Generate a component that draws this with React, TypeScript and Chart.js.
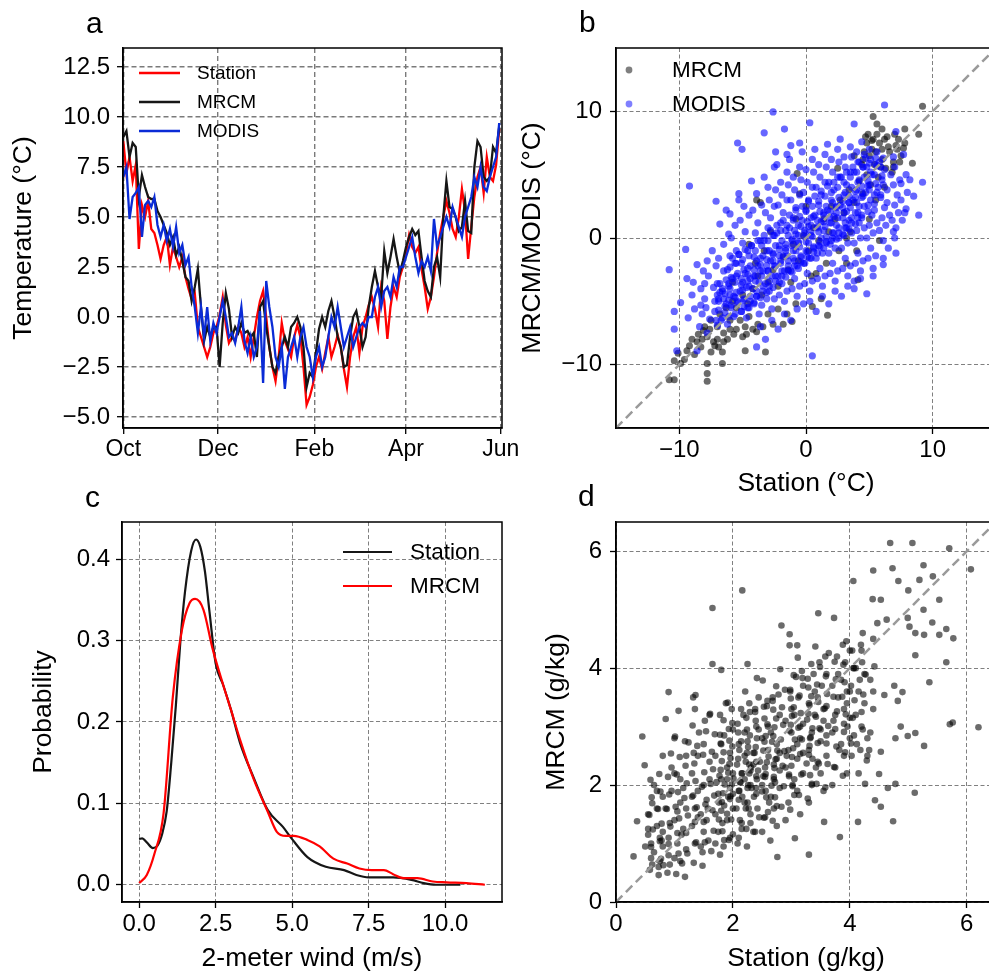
import React, { useEffect, useRef } from 'react';
import { Chart, registerables } from 'chart.js';

Chart.register(...registerables);

const FONT = "'Liberation Sans', Arial, Helvetica, sans-serif";

// ---------------- Panel a : daily temperature (every 2nd day from 1 Oct) ----------------
const monthTickDays = [0, 61, 123, 182, 243];
const monthTickLabels = ['Oct', 'Dec', 'Feb', 'Apr', 'Jun'];
const tempTicks = [-5, -2.5, 0, 2.5, 5, 7.5, 10, 12.5];
const dayStep = 2;
const stationTemp = [
  8.8, 7.2, 8.0, 6.8, 7.6, 3.4, 5.6, 5.0, 5.8, 4.4,
  4.2, 3.6, 2.9, 3.6, 4.0, 2.6, 3.5, 3.0, 2.5, 3.0,
  2.0, 1.4, 0.9, 1.2, -0.5, -1.0, -1.5, -2.0, -1.5, -0.8,
  -0.5, 0.1, 1.0, -0.4, -1.3, -1.0, -1.2, -0.5, -0.8, -1.5,
  -1.0, -2.0, -1.0, 0.0, 0.8, 1.3, 0.0, -1.5, -2.5, -3.2,
  -2.0, -0.3, -1.2, -1.6, -2.0, -1.0, -0.4, -1.0, -2.5, -4.4,
  -4.0, -3.4, -2.5, -2.0, -2.6, -1.8, -1.0, -2.0, -1.5, -0.9,
  -1.5, -2.6, -3.5, -2.0, -1.0, -0.5, -1.8, -0.5, 0.0, 0.6,
  1.0, 0.4, -0.5, 1.5, 0.8, -1.1, 0.5, 1.5, 1.0, 2.0,
  2.5, 3.2, 4.1, 3.5, 3.2, 3.5, 2.4, 1.5, 0.4, 1.0,
  2.0, 3.2, 4.2, 5.0, 5.8, 5.2, 4.4, 4.0, 5.0, 6.4,
  5.3, 2.9, 4.5, 6.0, 7.0, 7.5, 6.2, 8.0, 7.0, 6.8,
  7.6, 9.4,
];
const mrcmTemp = [
  9.0, 9.3, 8.0, 8.7, 8.5, 6.0, 7.1, 6.5, 6.0, 5.9,
  5.9, 5.3, 5.0, 4.6, 4.2, 3.6, 4.0, 3.1, 3.5, 2.8,
  2.0, 1.8, 0.8, 1.5, 2.4, 0.5, -1.2, -0.5, -1.0, -0.5,
  -0.5, -2.5, -0.3, 1.2, 0.4, -1.0, -0.5, -0.8, -0.3, -0.8,
  -0.7, -1.0, -0.8, -2.0, 0.5, 0.8, -0.5, -1.5, -2.5, -2.8,
  -2.0, -1.5, -1.0, -1.5, -0.5, -0.3, 0.0, -0.5, -1.5, -3.5,
  -2.8, -3.0, -1.8, -0.6, 0.0, -0.5, 0.3, 0.8, 0.0, -1.0,
  -1.5, -2.5, -2.4, -1.0, 0.0, 0.3, -0.5, -1.5, -1.0, 0.5,
  1.5, 2.3, 1.5, 1.0, 3.3, 2.2, 3.0, 3.9, 3.0, 2.2,
  2.8, 3.5, 4.0, 4.4, 4.1, 4.3, 3.0, 1.8, 1.3, 1.0,
  2.5, 3.0, 2.0, 5.0, 6.8, 5.5, 5.4, 5.0, 4.3, 4.5,
  5.8, 4.3, 4.2, 7.5, 8.8, 8.5, 7.0, 6.8, 7.0, 8.5,
  8.2, 9.5,
];
const modisTemp = [
  7.0, 7.5, 4.9, 6.0, 6.2, 6.5, 4.0, 5.6, 5.8, 5.5,
  6.0, 4.6, 4.0, 4.6, 3.8, 4.4, 3.5, 4.5, 3.2, 3.6,
  2.6, 3.0, 1.5, 0.5, -0.8, 0.5, -1.0, 0.5, -1.2, -0.3,
  -0.8, 0.0, 0.8, 0.0, -1.0, -0.8, -1.3, -0.5, 0.5, -1.2,
  -1.8, -1.0, -2.0, -1.5, 0.3, -3.3, 1.8, 0.5, -0.5, -2.0,
  -2.5, -1.5, -3.6, -2.0, -1.5, -1.0, -2.0, -1.0, -0.5, -1.5,
  -2.0, -3.0, -2.0, -1.5, -2.5, -2.0, -1.0, 0.0, -0.5, 0.5,
  -0.5, -1.5, -1.0, -0.5, -1.5, -1.0, -0.5, -0.3, -0.5, 0.0,
  0.0, 1.0, 1.5, 0.5, 1.3, 1.5, 1.0, 2.0, 1.5, 2.5,
  2.5, 3.0, 3.5, 4.0, 3.0, 2.2, 2.8, 2.5, 3.0, 2.3,
  4.9, 3.5, 4.0, 4.5, 5.0, 4.5, 5.5, 5.0, 4.5, 4.0,
  5.0, 5.5, 6.0, 7.0, 6.5, 7.5, 6.5, 6.3, 7.0, 7.5,
  8.0, 9.7,
];

// ---------------- Panel b : MRCM / MODIS vs station temperature ----------------
const tempScatterTicks = [-10, 0, 10];
const mrcmVsStation = [
  [9.2, 10.4], [8.9, 8.2], [8.4, 5.9], [7.8, 8.6], [7.1, 7.3], [5.3, 9.6], [5.6, 9.0], [7.7, 7.1],
  [6.9, 5.6], [5.9, 5.6], [5.2, 7.7], [4.7, 8.0], [4.1, -3.3], [5.8, -0.2], [-7.8, -11.3], [-7.8, -10.7],
  [-7.8, -9.9], [-6.6, -9.9], [-10.4, -11.2], [-10.8, -11.2], [-10.4, -9.7], [-10.1, -9.1], [-9.4, -8.9],
  [-8.1, -7.3], [-7.2, -8.5], [-6.6, -9.0], [-4.8, -8.9], [-3.2, -9.0], [-5.7, -7.6], [-4.7, -7.6],
  [-3.9, -7.4], [-1.8, -6.8], [-1.1, -6.6], [1.7, -6.1], [-3.9, 3.0], [-0.7, 5.1], [3.2, -2.0],
  [-9.0, -8.0], [-8.8, -9.2], [-8.5, -7.6], [-8.3, -8.6], [-8.0, -7.0], [-7.8, -7.8], [-7.5, -6.5],
  [-7.3, -8.2], [-7.0, -7.0], [-6.8, -6.0], [-6.5, -7.5], [-6.3, -5.5], [-6.0, -6.5], [-6.2, -8.0],
  [-5.8, -5.0], [-9.6, -9.6], [-9.9, -9.9], [-7.6, -7.2], [-8.6, -8.2], [-6.9, -8.6], [-5.5, -7.2],
  [-5.2, -6.5], [-4.8, -7.0], [-4.5, -6.2], [-4.2, -7.2], [-3.8, -6.8], [-3.4, -7.0], [-3.0, -6.0],
  [-2.6, -6.8], [-2.2, -5.6], [-1.5, -6.0], [-0.8, -5.2], [0.5, -5.4], [1.2, -4.8],
  [-5.5, -5.5], [-5.0, -4.5], [-4.6, -5.2], [-4.2, -4.0], [-3.8, -3.0], [-3.5, -4.5], [-3.0, -3.5],
  [-2.6, -2.5], [-2.2, -3.8], [-5.8, -3.5], [-4.0, -2.0], [-3.3, -1.0], [-2.8, 0.5], [-4.5, -0.5],
  [-3.6, 2.8], [-1.8, -1.5], [-1.4, -2.5], [-1.0, -0.5], [-0.6, -1.8], [-0.2, 0.2], [0.2, -1.0],
  [0.6, 0.8], [1.0, -0.2], [1.4, 1.5], [1.8, 0.5], [-0.8, 1.5], [0.0, 2.5], [0.8, -2.8], [1.6, -2.0],
  [-1.2, -3.5], [0.4, -3.0], [2.0, 2.5], [-0.5, 3.5], [2.3, 1.5], [2.7, 3.0], [3.0, 2.0], [3.4, 3.8],
  [3.8, 2.8], [4.2, 4.5], [4.5, 3.5], [4.8, 5.0], [5.1, 4.2], [5.4, 5.8], [5.7, 4.8], [6.0, 6.2],
  [6.3, 5.5], [6.6, 6.8], [6.9, 6.0], [7.2, 7.0], [7.5, 6.5], [3.5, 0.5], [4.0, -1.0], [5.0, 1.5],
  [5.5, 3.0], [6.2, 4.0], [4.6, 6.8], [5.8, 7.5], [6.4, 8.0], [7.0, 8.2], [6.8, 5.2], [7.4, 6.0],
  [5.2, 7.0], [4.4, 5.8], [3.8, 6.5], [2.5, 5.5], [3.2, 0.0], [2.6, -1.0],
  [4.5, 6.2], [5.0, 6.5], [5.3, 7.8], [5.6, 8.2], [6.0, 7.0], [6.5, 7.2], [4.8, 7.5], [5.5, 6.8],
  [6.2, 7.8], [7.3, 7.8], [7.8, 7.5], [6.0, 8.6], [4.9, 8.2], [-7.0, -8.0], [-6.5, -8.2], [-7.5, -9.0],
  [-8.2, -8.0], [-9.2, -8.5], [-6.0, -7.2], [-5.0, -7.8],
];
const modisVsStation = [
  [-2.6, 9.95], [6.2, 10.5], [0.3, 9.1], [-3.3, 8.3], [-1.7, 8.6], [-5.4, 7.5], [-5.05, 7.0], [-2.4, 6.8],
  [-1.5, 6.6], [-0.5, 7.5], [-1.2, 7.3], [3.8, 9.0], [7.1, 8.4], [9.2, 4.4], [8.9, 1.8], [8.5, 3.3],
  [7.9, 2.3], [7.5, 4.3], [6.9, 0.5], [7.0, 0.0], [7.1, -1.2], [6.1, -2.1], [4.8, -4.4], [3.8, -3.4],
  [0.5, -9.3], [-10.8, -2.5], [-9.2, 4.1], [-9.5, -0.9], [-7.1, 2.9], [-10.4, -5.8], [-10.4, -7.2],
  [-9.9, -5.1], [-8.3, -5.3], [-8.0, -3.6], [-8.9, -3.5], [-8.6, -2.1], [-7.8, -1.8], [-6.0, 1.9],
  [-5.3, 3.5], [-6.8, 1.1], [-6.1, 0.3], [-3.9, -8.6], [-8.6, -8.9], [-10.2, -8.9],
  [-9.3, -6.3], [-9.0, -4.5], [-8.8, -5.6], [-9.4, -3.2],
  [-8.2, -6.0], [-8.0, -4.8], [-7.9, -5.5], [-8.3, -4.0], [-7.7, -3.0], [-8.1, -2.6], [-7.6, -6.4], [-7.8, -7.5], [-8.4, -7.0],
  [-7.2, -5.8], [-7.0, -4.5], [-6.8, -3.6], [-7.3, -3.9], [-6.9, -5.0], [-7.1, -2.2], [-6.7, -6.5], [-6.6, -4.2],
  [-7.4, -1.0], [-6.9, -1.6], [-6.5, -0.5], [-7.0, -6.9],
  [-6.3, -5.2], [-6.0, -4.0], [-5.8, -3.2], [-6.2, -2.5], [-5.9, -5.5], [-6.1, -3.6], [-5.7, -4.6], [-5.6, -2.0],
  [-6.4, -4.4], [-5.5, -1.0], [-5.9, 0.0], [-6.2, -6.8], [-5.7, -6.2], [-5.5, -3.0], [-6.0, -1.4], [-5.4, -5.0],
  [-5.6, 1.0], [-6.3, 2.2],
  [-5.2, -4.2], [-5.0, -3.5], [-4.8, -2.8], [-5.1, -2.0], [-4.9, -4.8], [-4.7, -3.9], [-5.3, -1.3], [-4.6, -1.0],
  [-5.0, -0.4], [-4.8, 0.5], [-5.2, 1.4], [-4.5, -5.5], [-4.7, -6.3], [-5.1, -5.8], [-4.6, -2.4], [-4.4, -3.2],
  [-4.9, 2.5], [-4.5, 1.8], [-5.3, 3.0],
  [-4.2, -4.0], [-4.0, -3.0], [-3.8, -2.2], [-4.1, -1.5], [-3.9, -4.6], [-3.7, -3.5], [-4.3, -0.6], [-3.6, -0.2],
  [-4.0, 0.4], [-3.8, 1.2], [-4.2, 2.2], [-3.5, -5.3], [-3.7, -6.0], [-4.1, -5.2], [-3.6, -1.6], [-3.4, -2.6],
  [-3.9, 3.5], [-3.5, 2.6], [-4.3, 4.5], [-3.3, 4.8], [-3.6, -7.0], [-3.2, -8.0],
  [-3.2, -3.6], [-3.0, -2.6], [-2.8, -1.8], [-3.1, -1.0], [-2.9, -4.2], [-2.7, -3.0], [-3.3, -0.2], [-2.6, 0.2],
  [-3.0, 0.8], [-2.8, 1.6], [-3.2, 2.0], [-2.5, -4.8], [-2.7, -5.6], [-3.1, -4.8], [-2.6, -1.2], [-2.4, -2.2],
  [-2.9, 3.0], [-2.5, 2.5], [-3.0, 4.0], [-2.4, 3.8], [-2.7, -6.5], [-2.2, -7.2], [-2.5, 5.6],
  [-2.2, -3.0], [-2.0, -2.0], [-1.8, -1.4], [-2.1, -0.6], [-1.9, -3.6], [-1.7, -2.6], [-2.3, 0.4], [-1.6, 0.6],
  [-2.0, 1.2], [-1.8, 2.0], [-2.2, 2.6], [-1.5, -4.2], [-1.7, -5.0], [-2.1, -4.5], [-1.6, -0.8], [-1.4, -1.8],
  [-1.9, 3.4], [-1.5, 3.0], [-2.0, 4.4], [-1.4, 4.2], [-1.7, -6.0], [-1.2, -6.5], [-1.5, 5.2], [-2.3, 5.8],
  [-1.2, -2.6], [-1.0, -1.6], [-0.8, -1.0], [-1.1, -0.2], [-0.9, -3.2], [-0.7, -2.2], [-1.3, 0.8], [-0.6, 1.0],
  [-1.0, 1.6], [-0.8, 2.4], [-1.2, 3.0], [-0.5, -3.8], [-0.7, -4.6], [-1.1, -4.0], [-0.6, -0.4], [-0.4, -1.4],
  [-0.9, 3.8], [-0.5, 3.4], [-1.0, 4.8], [-0.4, 4.6], [-0.7, -5.6], [-0.2, -5.2], [-0.5, 5.6], [-1.3, 6.2], [-0.8, 0.3],
  [-0.2, -2.0], [0.0, -1.0], [0.2, -0.4], [-0.1, 0.4], [0.1, -2.8], [0.3, -1.6], [-0.3, 1.4], [0.4, 1.6],
  [0.0, 2.2], [0.2, 3.0], [-0.2, 3.6], [0.5, -3.4], [0.3, -4.2], [-0.1, -3.6], [0.4, 0.2], [0.6, -0.8],
  [0.1, 4.4], [0.5, 4.0], [0.0, 5.4], [0.6, 5.2], [0.3, -5.0], [0.8, -5.8], [0.5, 6.2], [-0.3, 6.8], [0.2, 0.9],
  [0.8, -1.6], [1.0, -0.6], [1.2, 0.0], [0.9, 0.8], [1.1, -2.4], [1.3, -1.2], [0.7, 1.8], [1.4, 2.0],
  [1.0, 2.6], [1.2, 3.4], [0.8, 4.0], [1.5, -3.0], [1.3, -3.8], [0.9, -3.2], [1.4, 0.6], [1.6, -0.4],
  [1.1, 4.8], [1.5, 4.4], [1.0, 5.8], [1.6, 5.6], [1.3, -4.6], [1.8, -5.2], [1.5, 6.6], [0.7, 7.0], [1.2, 1.3],
  [1.8, -1.2], [2.0, -0.2], [2.2, 0.4], [1.9, 1.2], [2.1, -2.0], [2.3, -0.8], [1.7, 2.2], [2.4, 2.4],
  [2.0, 3.0], [2.2, 3.8], [1.8, 4.4], [2.5, -2.6], [2.3, -3.4], [1.9, -2.8], [2.4, 1.0], [2.6, 0.0],
  [2.1, 5.2], [2.5, 4.8], [2.0, 6.2], [2.6, 6.0], [2.3, -4.2], [2.8, -4.6], [2.5, 7.0], [1.7, 7.4], [2.2, 1.7],
  [2.8, -0.8], [3.0, 0.2], [3.2, 0.8], [2.9, 1.6], [3.1, -1.6], [3.3, -0.4], [2.7, 2.6], [3.4, 2.8],
  [3.0, 3.4], [3.2, 4.2], [2.8, 4.8], [3.5, -2.2], [3.3, -3.0], [2.9, -2.4], [3.4, 1.4], [3.6, 0.4],
  [3.1, 5.6], [3.5, 5.2], [3.0, 6.4], [3.6, 6.4], [3.3, -3.8], [3.8, -4.0], [3.5, 7.2], [2.7, 7.8], [3.2, 2.1],
  [3.8, -0.4], [4.0, 0.6], [4.2, 1.2], [3.9, 2.0], [4.1, -1.2], [4.3, 0.0], [3.7, 3.0], [4.4, 3.2],
  [4.0, 3.8], [4.2, 4.6], [3.8, 5.2], [4.5, -1.8], [4.3, -2.6], [3.9, -2.0], [4.4, 1.8], [4.6, 0.8],
  [4.1, 6.0], [4.5, 5.6], [4.0, 6.8], [4.6, 6.6], [4.3, -3.2], [4.4, 7.6], [4.2, 2.5],
  [4.8, 0.0], [5.0, 1.0], [5.2, 1.8], [4.9, 2.6], [5.1, -0.8], [5.3, 0.4], [4.7, 3.6], [5.4, 3.4],
  [5.0, 4.2], [5.2, 5.0], [4.8, 5.6], [5.5, -1.4], [5.3, -2.4], [4.9, -1.6], [5.4, 2.2], [5.6, 1.2],
  [5.1, 6.2], [5.5, 5.8], [5.0, 7.0], [5.6, 6.8], [5.3, -3.0],
  [5.8, 0.6], [6.0, 1.6], [6.2, 2.4], [5.9, 3.2], [6.1, -0.2], [6.3, 1.0], [5.7, 4.0], [6.4, 3.8],
  [6.0, 4.6], [6.2, 5.4], [5.8, 6.0], [6.5, -0.8], [6.4, 2.8], [6.6, 1.8], [6.1, -1.6],
  [6.8, 1.4], [7.0, 2.6], [7.2, 3.4], [6.9, 4.2], [7.1, 0.8], [7.3, 2.0], [6.7, 5.0], [7.4, 4.6],
  [7.0, 5.6], [7.5, 3.0], [7.6, 1.4], [6.9, 6.4],
  [7.8, 2.0], [8.0, 3.6], [7.9, 5.0], [8.2, 4.6], [7.7, 6.6],
];
// dense MODIS band along the diagonal
const modisCoreBand = [
  [-7.1, -6.5], [-6.9, -5.7], [-7.2, -5.0], [-6.8, -4.3], [-7.0, -3.6], [-6.9, -4.8],
  [-6.6, -6.3], [-6.4, -5.4], [-6.5, -4.8], [-6.6, -4.0], [-6.3, -3.3], [-6.5, -2.6], [-6.4, -5.9],
  [-6.1, -6.2], [-5.9, -5.3], [-6.0, -4.5], [-6.1, -3.8], [-5.9, -3.1], [-6.0, -2.3], [-5.8, -1.6], [-6.1, -4.9],
  [-5.6, -6.0], [-5.4, -5.1], [-5.5, -4.3], [-5.6, -3.5], [-5.4, -2.8], [-5.5, -2.0], [-5.3, -1.3], [-5.6, -4.7],
  [-5.1, -5.8], [-4.9, -4.9], [-5.0, -4.1], [-5.1, -3.2], [-4.9, -2.5], [-5.0, -1.7], [-4.8, -0.9], [-5.1, -3.7], [-4.9, -5.4],
  [-4.6, -5.5], [-4.4, -4.6], [-4.5, -3.8], [-4.6, -2.9], [-4.4, -2.2], [-4.5, -1.4], [-4.3, -0.6], [-4.6, -3.4], [-4.4, -5.0],
  [-4.1, -5.1], [-3.9, -4.2], [-4.0, -3.4], [-4.1, -2.5], [-3.9, -1.8], [-4.0, -1.0], [-3.8, -0.2], [-4.1, -3.0], [-3.9, -4.6],
  [-3.6, -4.7], [-3.4, -3.8], [-3.5, -3.0], [-3.6, -2.1], [-3.4, -1.4], [-3.5, -0.6], [-3.3, 0.2], [-3.6, -2.6], [-3.4, -4.2],
  [-3.1, -4.3], [-2.9, -3.4], [-3.0, -2.6], [-3.1, -1.7], [-2.9, -1.0], [-3.0, -0.2], [-2.8, 0.6], [-3.1, -2.2], [-2.9, -3.8],
  [-2.6, -3.9], [-2.4, -3.0], [-2.5, -2.2], [-2.6, -1.3], [-2.4, -0.6], [-2.5, 0.2], [-2.3, 1.0], [-2.6, -1.8], [-2.4, -3.4],
  [-2.1, -3.5], [-1.9, -2.6], [-2.0, -1.8], [-2.1, -0.9], [-1.9, -0.2], [-2.0, 0.6], [-1.8, 1.4], [-2.1, -1.4], [-1.9, -3.0],
  [-1.6, -3.1], [-1.4, -2.2], [-1.5, -1.4], [-1.6, -0.5], [-1.4, 0.2], [-1.5, 1.0], [-1.3, 1.8], [-1.6, -1.0], [-1.4, -2.6],
  [-1.1, -2.7], [-0.9, -1.8], [-1.0, -1.0], [-1.1, -0.1], [-0.9, 0.6], [-1.0, 1.4], [-0.8, 2.2], [-1.1, -0.6], [-0.9, -2.2],
  [-0.6, -2.4], [-0.4, -1.5], [-0.5, -0.7], [-0.6, 0.2], [-0.4, 0.9], [-0.5, 1.7], [-0.3, 2.5], [-0.6, -0.3], [-0.4, -1.9],
  [-0.1, -2.0], [0.1, -1.1], [0.0, -0.3], [-0.1, 0.6], [0.1, 1.3], [0.0, 2.1], [0.2, 2.9], [-0.1, 0.1], [0.1, -1.5],
  [0.4, -1.6], [0.6, -0.7], [0.5, 0.1], [0.4, 1.0], [0.6, 1.7], [0.5, 2.5], [0.7, 3.3], [0.4, 0.5], [0.6, -1.1],
  [0.9, -1.2], [1.1, -0.3], [1.0, 0.5], [0.9, 1.4], [1.1, 2.1], [1.0, 2.9], [1.2, 3.7], [0.9, 0.9], [1.1, -0.7],
  [1.4, -0.8], [1.6, 0.1], [1.5, 0.9], [1.4, 1.8], [1.6, 2.5], [1.5, 3.3], [1.7, 4.1], [1.4, 1.3], [1.6, -0.3],
  [1.9, -0.5], [2.1, 0.4], [2.0, 1.2], [1.9, 2.1], [2.1, 2.8], [2.0, 3.6], [2.2, 4.4], [1.9, 1.6], [2.1, 0.0],
  [2.4, -0.1], [2.6, 0.8], [2.5, 1.6], [2.4, 2.5], [2.6, 3.2], [2.5, 4.0], [2.7, 4.8], [2.4, 2.0], [2.6, 0.4],
  [2.9, 0.3], [3.1, 1.2], [3.0, 2.0], [2.9, 2.9], [3.1, 3.6], [3.0, 4.4], [3.2, 5.2], [2.9, 2.4], [3.1, 0.8],
  [3.4, 0.7], [3.6, 1.6], [3.5, 2.4], [3.4, 3.3], [3.6, 4.0], [3.5, 4.8], [3.7, 5.6], [3.4, 2.8], [3.6, 1.2],
  [3.9, 1.1], [4.1, 2.0], [4.0, 2.8], [3.9, 3.7], [4.1, 4.4], [4.0, 5.2], [4.2, 6.0], [3.9, 3.2], [4.1, 1.6],
  [4.4, 1.6], [4.6, 2.5], [4.5, 3.3], [4.4, 4.1], [4.6, 4.8], [4.5, 5.6], [4.7, 6.3], [4.4, 3.6],
  [4.9, 2.1], [5.1, 3.0], [5.0, 3.8], [4.9, 4.5], [5.1, 5.2], [5.0, 5.9], [4.9, 4.1],
  [5.4, 2.7], [5.6, 3.6], [5.5, 4.3], [5.4, 5.0], [5.6, 5.7], [5.5, 6.3],
  [5.9, 3.4], [6.1, 4.2], [6.0, 4.9], [5.9, 5.6], [6.1, 6.3],
];

// ---------------- Panel c : 2-meter wind probability density ----------------
const windTicks = [0, 2.5, 5, 7.5, 10];
const probTicks = [0, 0.1, 0.2, 0.3, 0.4];
const stationWindX = [0, 0.1, 0.25, 0.45, 0.6, 0.75, 0.9, 1.05, 1.2, 1.35, 1.5, 1.7, 1.86, 2.0, 2.15, 2.3, 2.5, 2.75, 3.0, 3.3, 3.75, 4.2, 4.7, 5.0, 5.5, 6.1, 6.7, 7.1, 7.5, 8.3, 8.9, 9.3, 9.7, 10.5];
const stationWindPdf = [0.056, 0.057, 0.052, 0.045, 0.048, 0.062, 0.09, 0.15, 0.22, 0.30, 0.36, 0.41, 0.424, 0.415, 0.385, 0.335, 0.272, 0.245, 0.215, 0.174, 0.131, 0.092, 0.071, 0.056, 0.034, 0.022, 0.018, 0.012, 0.009, 0.009, 0.006, 0.002, 0.0, 0.0];
const mrcmWindX = [0, 0.25, 0.5, 0.8, 1.1, 1.4, 1.65, 1.83, 2.1, 2.4, 2.75, 3.0, 3.3, 3.75, 4.2, 4.5, 4.8, 5.05, 5.5, 5.9, 6.35, 6.8, 7.2, 7.6, 8.0, 8.3, 8.65, 9.1, 9.6, 10.05, 10.7, 11.3];
const mrcmWindPdf = [0.002, 0.012, 0.038, 0.088, 0.23, 0.313, 0.346, 0.351, 0.338, 0.29, 0.245, 0.215, 0.178, 0.129, 0.09, 0.065, 0.06, 0.06, 0.055, 0.047, 0.032, 0.026, 0.02, 0.018, 0.018, 0.013, 0.008, 0.008, 0.004, 0.003, 0.002, 0.0];

// ---------------- Panel d : specific humidity, MRCM vs station ----------------
const humidityTicks = [0, 2, 4, 6];
const humidityPairs = [
  [1.65, 5.03], [2.16, 5.33], [1.65, 4.07], [1.8, 3.97], [2.25, 4.07], [2.41, 3.83], [0.9, 3.59], [1.36, 3.54],
  [1.32, 3.5], [1.07, 3.27], [0.85, 3.13], [0.45, 2.83], [0.49, 2.34], [0.62, 1.69], [0.36, 1.38], [0.3, 0.78],
  [0.73, 0.46], [0.81, 0.63], [1.13, 0.66], [2.76, 0.77], [3.3, 0.81], [3.06, 1.09], [3.83, 1.11], [3.56, 1.37],
  [4.14, 1.37], [4.43, 1.74], [4.53, 1.63], [4.74, 1.38], [5.11, 1.87], [4.78, 2.02], [4.65, 1.95], [4.26, 2.02],
  [4.5, 2.19], [2.83, 4.73], [2.97, 4.58], [2.97, 4.39], [3.1, 4.39], [3.46, 4.94], [3.73, 4.86], [4.06, 5.49],
  [4.4, 5.67], [4.69, 6.14], [5.07, 6.14], [4.73, 5.71], [4.83, 5.49], [5.26, 5.76], [5.42, 5.57], [5.7, 6.05],
  [6.07, 5.69], [5.19, 5.51], [5.0, 5.33], [5.53, 5.17], [5.26, 5.0], [4.39, 5.18], [4.53, 5.17], [4.47, 4.77],
  [4.63, 4.83], [4.99, 4.86], [5.02, 4.71], [5.12, 4.6], [5.27, 4.57], [5.41, 4.78], [5.53, 4.57], [5.65, 4.67],
  [5.77, 4.51], [5.65, 4.1], [5.36, 3.76], [5.71, 3.04], [5.76, 3.07], [6.2, 2.99], [5.27, 2.67], [5.12, 4.22],
  [5.12, 2.89], [4.99, 2.84], [4.87, 3.0], [4.78, 2.8], [4.53, 2.57], [4.33, 2.6], [4.29, 2.42], [4.02, 2.71],
  [3.96, 3.0], [4.42, 4.03], [4.76, 3.7], [4.9, 3.59], [4.82, 3.44], [4.59, 3.54], [4.27, 3.89], [4.07, 4.0],
  [0.55, 1.15], [0.6, 1.0], [0.7, 1.3], [0.65, 0.85], [0.75, 1.1], [0.8, 0.95], [0.55, 1.5], [0.7, 1.6],
  [0.8, 1.2], [0.6, 0.75], [0.75, 0.7], [0.5, 0.95], [0.8, 1.8], [0.65, 2.0], [0.8, 2.5], [0.7, 1.9],
  [0.55, 1.25], [0.78, 1.05],
  [0.9, 1.1], [1.0, 1.4], [1.1, 1.7], [0.95, 1.9], [1.05, 1.0], [1.15, 1.25], [1.2, 1.6], [0.9, 0.8],
  [1.0, 0.75], [1.1, 2.1], [0.95, 2.3], [1.2, 2.5], [1.0, 2.8], [1.15, 1.95], [1.05, 1.55], [0.92, 1.35],
  [1.2, 0.9], [1.1, 0.7], [1.18, 2.75], [1.0, 2.2], [0.85, 1.6], [1.12, 1.15],
  [1.3, 1.3], [1.35, 1.6], [1.4, 1.9], [1.45, 1.5], [1.5, 1.2], [1.55, 1.75], [1.6, 2.1], [1.3, 2.2],
  [1.4, 2.5], [1.5, 2.7], [1.35, 1.0], [1.45, 0.95], [1.55, 1.4], [1.6, 2.4], [1.3, 1.8], [1.4, 1.45],
  [1.5, 2.0], [1.58, 1.05], [1.42, 2.9], [1.52, 3.1], [1.35, 3.3], [1.6, 3.2], [1.48, 0.85], [1.33, 2.55], [1.57, 1.6],
  [1.7, 1.5], [1.75, 1.85], [1.8, 2.1], [1.85, 1.65], [1.9, 2.3], [1.95, 1.95], [2.0, 2.2], [1.7, 2.5],
  [1.8, 2.7], [1.9, 1.4], [1.75, 1.2], [2.0, 1.6], [1.85, 2.85], [1.95, 2.55], [1.72, 2.05], [1.82, 1.35],
  [1.92, 1.8], [2.0, 2.95], [1.78, 3.2], [1.88, 3.4], [1.7, 1.0], [1.95, 1.1], [2.0, 1.85], [1.9, 2.1],
  [1.76, 1.7], [1.98, 3.3], [1.84, 0.95],
  [2.1, 1.9], [2.15, 2.2], [2.2, 2.5], [2.25, 1.7], [2.3, 2.0], [2.35, 2.35], [2.4, 2.15], [2.1, 2.7],
  [2.2, 2.9], [2.3, 1.5], [2.15, 1.35], [2.4, 1.85], [2.25, 2.75], [2.35, 2.55], [2.12, 2.05], [2.22, 1.6],
  [2.32, 1.95], [2.4, 3.0], [2.18, 3.2], [2.28, 3.4], [2.1, 1.1], [2.35, 1.2], [2.4, 2.4], [2.3, 2.25],
  [2.16, 1.8], [2.38, 3.3], [2.24, 0.95], [2.2, 2.1], [2.28, 2.35],
  [2.5, 2.0], [2.55, 2.3], [2.6, 2.6], [2.65, 1.8], [2.7, 2.1], [2.75, 2.45], [2.8, 2.25], [2.5, 2.8],
  [2.6, 3.0], [2.7, 1.6], [2.55, 1.45], [2.8, 1.95], [2.65, 2.9], [2.75, 2.7], [2.52, 2.15], [2.62, 1.7],
  [2.72, 2.05], [2.8, 3.2], [2.58, 3.35], [2.68, 3.5], [2.5, 1.2], [2.75, 1.3], [2.8, 2.55], [2.7, 2.35],
  [2.56, 1.9], [2.78, 3.55], [2.64, 1.05],
  [2.9, 2.3], [2.95, 2.6], [3.0, 2.9], [3.05, 2.1], [3.1, 2.45], [3.15, 2.8], [3.2, 2.55], [2.9, 3.1],
  [3.0, 3.3], [3.1, 1.9], [2.95, 1.7], [3.2, 2.2], [3.05, 3.2], [3.15, 3.0], [2.92, 2.5], [3.02, 2.0],
  [3.12, 3.5], [3.2, 3.7], [2.98, 3.6], [3.08, 3.85], [2.9, 1.4], [3.15, 1.5], [3.2, 3.05], [3.1, 2.7],
  [2.96, 2.15], [3.18, 3.95],
  [3.3, 2.6], [3.35, 2.9], [3.4, 3.2], [3.45, 2.4], [3.5, 2.75], [3.55, 3.1], [3.6, 2.85], [3.3, 3.4],
  [3.4, 3.6], [3.5, 2.2], [3.35, 2.0], [3.6, 2.5], [3.45, 3.5], [3.55, 3.3], [3.32, 2.8], [3.42, 2.3],
  [3.52, 3.7], [3.6, 3.9], [3.38, 3.9], [3.48, 4.1], [3.3, 1.7], [3.55, 1.9], [3.6, 3.35], [3.5, 2.95],
  [3.36, 2.45], [3.58, 4.2],
  [3.7, 2.9], [3.75, 3.2], [3.8, 3.5], [3.85, 2.7], [3.9, 3.05], [3.95, 3.4], [4.0, 3.15], [3.7, 3.7],
  [3.8, 3.9], [3.9, 2.5], [3.75, 2.3], [4.0, 2.8], [3.85, 3.8], [3.95, 3.6], [3.72, 3.1], [3.82, 2.6],
  [3.92, 4.1], [4.0, 4.3], [3.78, 4.2], [3.88, 4.4], [3.7, 2.0], [3.95, 2.2], [4.0, 3.6], [3.9, 3.3],
  [4.1, 3.2], [4.15, 3.6], [4.2, 3.0], [4.25, 3.4], [4.3, 2.8], [4.35, 3.8], [4.4, 3.3], [4.1, 4.0],
  [4.2, 4.3], [4.3, 2.5], [4.15, 2.2], [4.4, 4.5], [4.25, 3.9], [4.35, 2.9], [4.12, 2.7], [4.22, 4.6], [4.4, 3.6],
];
// dense humidity core along the main band
const humidityCore = [
  [0.58, 0.55], [0.62, 0.64], [0.6, 0.94], [0.63, 1.24], [0.57, 1.49], [0.61, 1.79], [0.59, 2.09],
  [0.73, 0.6], [0.77, 0.74], [0.75, 1.04], [0.78, 1.34], [0.72, 1.59], [0.76, 1.89], [0.74, 2.19],
  [0.88, 0.5], [0.92, 0.64], [0.9, 0.99], [0.93, 1.29], [0.87, 1.59], [0.91, 1.84], [0.89, 2.14], [0.94, 2.54],
  [1.03, 0.48], [1.07, 0.83], [1.05, 1.18], [1.08, 1.43], [1.02, 1.63], [1.06, 1.88], [1.04, 2.18], [1.09, 2.48], [1.01, 2.83],
  [1.18, 0.43], [1.22, 0.83], [1.2, 1.18], [1.23, 1.48], [1.17, 1.78], [1.21, 2.03], [1.19, 2.33], [1.24, 2.73],
  [1.33, 0.67], [1.37, 1.02], [1.35, 1.37], [1.38, 1.62], [1.32, 1.82], [1.36, 2.07], [1.34, 2.37], [1.39, 2.67], [1.31, 3.02],
  [1.48, 0.62], [1.52, 1.02], [1.5, 1.37], [1.53, 1.67], [1.47, 1.97], [1.51, 2.22], [1.49, 2.52], [1.54, 2.92],
  [1.63, 0.87], [1.67, 1.22], [1.65, 1.57], [1.68, 1.82], [1.62, 2.02], [1.66, 2.27], [1.64, 2.57], [1.69, 2.87], [1.61, 3.22],
  [1.78, 0.81], [1.82, 1.21], [1.8, 1.56], [1.83, 1.86], [1.77, 2.16], [1.81, 2.41], [1.79, 2.71], [1.84, 3.11],
  [1.85, 1.06], [1.76, 1.41], [1.81, 1.71], [1.86, 2.01], [1.79, 2.26], [1.84, 2.56], [1.78, 2.86],
  [1.93, 1.06], [1.97, 1.41], [1.95, 1.76], [1.98, 2.01], [1.92, 2.21], [1.96, 2.46], [1.94, 2.76], [1.99, 3.06], [1.91, 3.41],
  [2.0, 1.16], [1.9, 1.51], [1.96, 1.81], [2.01, 2.11], [1.94, 2.36], [1.99, 2.66], [1.93, 2.96],
  [2.08, 1.0], [2.12, 1.4], [2.1, 1.75], [2.13, 2.05], [2.07, 2.35], [2.11, 2.6], [2.09, 2.9], [2.14, 3.3],
  [2.15, 1.25], [2.06, 1.6], [2.11, 1.9], [2.16, 2.2], [2.09, 2.45], [2.14, 2.75], [2.08, 3.05],
  [2.23, 1.25], [2.27, 1.6], [2.25, 1.95], [2.28, 2.2], [2.22, 2.4], [2.26, 2.65], [2.24, 2.95], [2.29, 3.25], [2.21, 3.6],
  [2.3, 1.35], [2.2, 1.7], [2.26, 2.0], [2.31, 2.3], [2.24, 2.55], [2.29, 2.85], [2.23, 3.15],
  [2.38, 1.2], [2.42, 1.6], [2.4, 1.95], [2.43, 2.25], [2.37, 2.55], [2.41, 2.8], [2.39, 3.1], [2.44, 3.5],
  [2.45, 1.45], [2.36, 1.8], [2.41, 2.1], [2.46, 2.4], [2.39, 2.65], [2.44, 2.95], [2.38, 3.25],
  [2.53, 1.44], [2.57, 1.79], [2.55, 2.14], [2.58, 2.39], [2.52, 2.59], [2.56, 2.84], [2.54, 3.14], [2.59, 3.44], [2.51, 3.79],
  [2.6, 1.54], [2.5, 1.89], [2.56, 2.19], [2.61, 2.49], [2.54, 2.74], [2.59, 3.04], [2.53, 3.34],
  [2.68, 1.39], [2.72, 1.79], [2.7, 2.14], [2.73, 2.44], [2.67, 2.74], [2.71, 2.99], [2.69, 3.29], [2.74, 3.69],
  [2.75, 1.64], [2.66, 1.99], [2.71, 2.29], [2.76, 2.59], [2.69, 2.84], [2.74, 3.14], [2.68, 3.44],
  [2.83, 1.63], [2.87, 1.98], [2.85, 2.33], [2.88, 2.58], [2.82, 2.78], [2.86, 3.03], [2.84, 3.33], [2.89, 3.63], [2.81, 3.98],
  [2.98, 1.58], [3.02, 1.98], [3.0, 2.33], [3.03, 2.63], [2.97, 2.93], [3.01, 3.18], [2.99, 3.48], [3.04, 3.88],
  [3.05, 1.83], [2.96, 2.18], [3.01, 2.48], [3.06, 2.78], [2.99, 3.03], [3.04, 3.33], [2.98, 3.63],
  [3.13, 1.83], [3.17, 2.18], [3.15, 2.53], [3.18, 2.78], [3.12, 2.98], [3.16, 3.23], [3.14, 3.53], [3.19, 3.83], [3.11, 4.18],
  [3.28, 1.77], [3.32, 2.17], [3.3, 2.52], [3.33, 2.82], [3.27, 3.12], [3.31, 3.37], [3.29, 3.67], [3.34, 4.07],
  [3.35, 2.02], [3.26, 2.37], [3.31, 2.67], [3.36, 2.97], [3.29, 3.22], [3.34, 3.52], [3.28, 3.82],
  [3.43, 2.02], [3.47, 2.37], [3.45, 2.72], [3.48, 2.97], [3.42, 3.17], [3.46, 3.42], [3.44, 3.72], [3.49, 4.02], [3.41, 4.37],
  [3.58, 1.96], [3.62, 2.36], [3.6, 2.71], [3.63, 3.01], [3.57, 3.31], [3.61, 3.56], [3.59, 3.86], [3.64, 4.26],
  [3.73, 2.31], [3.77, 2.66], [3.75, 2.96], [3.78, 3.26], [3.72, 3.51], [3.76, 3.81], [3.74, 4.11],
  [3.88, 2.16], [3.92, 2.56], [3.9, 2.91], [3.93, 3.21], [3.87, 3.51], [3.91, 3.76], [3.89, 4.06], [3.94, 4.46],
  [4.03, 2.5], [4.07, 2.85], [4.05, 3.15], [4.08, 3.45], [4.02, 3.7], [4.06, 4.0], [4.04, 4.3],
  [4.18, 2.6], [4.22, 2.95], [4.2, 3.25], [4.23, 3.55], [4.17, 3.8], [4.21, 4.1], [4.19, 4.4],
];

// ---------------- helpers ----------------
const minus = (s: string) => s.replace('-', '\u2212');
const toXY = (xs: number[], ys: number[]) => ys.map((y, i) => ({ x: xs[i], y }));
const pairsToXY = (p: number[][]) => p.map(([x, y]) => ({ x, y }));

type LegendItem = { label: string; color: string; kind: 'line' | 'dot'; width?: number; r?: number };
type LegendCfg = { dx: number; dy: number; gap: number; len: number; tx: number; size: number; items: LegendItem[] };

function decor(letter: { text: string; x: number; y: number }, legend?: LegendCfg) {
  return {
    id: 'decor',
    afterDraw(chart: any) {
      const { ctx, chartArea: a } = chart;
      ctx.save();
      ctx.setLineDash([]);
      ctx.strokeStyle = '#000';
      ctx.lineWidth = 1.5;
      ctx.strokeRect(a.left, a.top, a.right - a.left, a.bottom - a.top);
      if (legend) {
        ctx.font = `${legend.size}px ${FONT}`;
        ctx.textBaseline = 'middle';
        ctx.textAlign = 'left';
        legend.items.forEach((it, i) => {
          const y = a.top + legend.dy + i * legend.gap;
          if (it.kind === 'line') {
            ctx.strokeStyle = it.color;
            ctx.lineWidth = it.width || 2;
            ctx.beginPath();
            ctx.moveTo(a.left + legend.dx, y);
            ctx.lineTo(a.left + legend.dx + legend.len, y);
            ctx.stroke();
          } else {
            ctx.fillStyle = it.color;
            ctx.beginPath();
            ctx.arc(a.left + legend.dx, y, it.r || 3, 0, Math.PI * 2);
            ctx.fill();
          }
          ctx.fillStyle = '#000';
          ctx.fillText(it.label, a.left + legend.tx, y + 1);
        });
      }
      ctx.font = `30px ${FONT}`;
      ctx.fillStyle = '#000';
      ctx.textAlign = 'left';
      ctx.textBaseline = 'alphabetic';
      ctx.fillText(letter.text, letter.x, letter.y);
      ctx.restore();
    },
  };
}

function axis(o: any) {
  return {
    type: 'linear',
    position: o.pos,
    min: o.min,
    max: o.max,
    afterBuildTicks: (s: any) => {
      s.ticks = o.ticks.map((v: number) => ({ value: v }));
    },
    afterFit: (s: any) => {
      if (o.pos === 'left') s.width = o.size;
      else s.height = o.size;
      s.paddingLeft = 0;
      s.paddingRight = 0;
      s.paddingTop = 0;
      s.paddingBottom = 0;
    },
    ticks: {
      autoSkip: false,
      maxRotation: 0,
      minRotation: 0,
      padding: o.pad,
      color: '#000',
      font: { family: FONT, size: o.tickSize || 24 },
      callback: (v: number) => o.fmt(v),
    },
    grid: {
      display: true,
      color: o.gridColor,
      lineWidth: o.gridWidth,
      borderDash: o.dash,
      drawTicks: true,
      tickLength: 6,
      tickWidth: 1.3,
      tickColor: '#000',
      tickBorderDash: [],
    },
    border: { display: true, color: '#000', width: 1.5, dash: o.dash },
    title: o.title
      ? {
          display: true,
          text: o.title,
          color: '#000',
          font: { family: FONT, size: 26.5 },
          padding: { top: o.titlePad, bottom: o.titlePad },
        }
      : { display: false },
  };
}

const baseOptions = (padding: any) => ({
  responsive: false,
  maintainAspectRatio: false,
  animation: false,
  events: [],
  layout: { padding },
  plugins: { legend: { display: false }, tooltip: { enabled: false }, title: { display: false } },
});

// ---------------- chart configs ----------------
function configA() {
  const days = stationTemp.map((_, i) => i * dayStep);
  const line = (label: string, ys: number[], color: string, order: number) => ({
    label,
    data: toXY(days, ys),
    borderColor: color,
    backgroundColor: color,
    borderWidth: 2.3,
    pointRadius: 0,
    tension: 0,
    order,
  });
  const RED = '#ff0000', BLACK = '#161616', BLUE = '#0a2bd6';
  return {
    type: 'line',
    data: {
      datasets: [line('Station', stationTemp, RED, 3), line('MRCM', mrcmTemp, BLACK, 2), line('MODIS', modisTemp, BLUE, 1)],
    },
    options: {
      ...baseOptions({ left: 0, top: 48, right: 28, bottom: 0 }),
      scales: {
        x: axis({
          pos: 'bottom', min: -0.2, max: 243.8, ticks: monthTickDays,
          fmt: (v: number) => monthTickLabels[monthTickDays.indexOf(v)] ?? '',
          size: 52, pad: 2, gridColor: '#7a7a7a', gridWidth: 1.4, dash: [5, 3], tickSize: 23,
        }),
        y: axis({
          pos: 'left', min: -5.55, max: 13.45, ticks: tempTicks,
          fmt: (v: number) => minus(v.toFixed(1)),
          size: 123, pad: 7, gridColor: '#7a7a7a', gridWidth: 1.4, dash: [5, 3],
          title: 'Temperature (°C)', titlePad: 8,
        }),
      },
    },
    plugins: [
      decor({ text: 'a', x: 86, y: 33 }, {
        dx: 16, dy: 25, gap: 29, len: 41, tx: 74, size: 19,
        items: [
          { label: 'Station', color: RED, kind: 'line', width: 2.3 },
          { label: 'MRCM', color: BLACK, kind: 'line', width: 2.3 },
          { label: 'MODIS', color: BLUE, kind: 'line', width: 2.3 },
        ],
      }),
    ],
  };
}

function configB() {
  const GREY = 'rgba(0,0,0,0.58)', BLUE = 'rgba(0,0,255,0.6)';
  return {
    type: 'scatter',
    data: {
      datasets: [
        {
          label: '1:1', data: [{ x: -15, y: -15 }, { x: 15, y: 15 }], showLine: true,
          borderColor: '#9a9a9a', borderWidth: 2.5, borderDash: [9, 5], pointRadius: 0, order: 0,
        },
        { label: 'MRCM', data: pairsToXY(mrcmVsStation), pointRadius: 3.5, backgroundColor: GREY, borderWidth: 0, order: 2 },
        {
          label: 'MODIS', data: pairsToXY(modisVsStation.concat(modisCoreBand)), pointRadius: 3.6,
          backgroundColor: BLUE, borderWidth: 0, order: 1,
        },
      ],
    },
    options: {
      ...baseOptions({ left: 0, top: 48, right: 9, bottom: 0 }),
      scales: {
        x: axis({
          pos: 'bottom', min: -15, max: 15, ticks: tempScatterTicks, fmt: (v: number) => minus(String(v)),
          size: 72, pad: 2, gridColor: '#808080', gridWidth: 1, dash: [4, 2.5], title: 'Station (°C)', titlePad: 0,
        }),
        y: axis({
          pos: 'left', min: -15, max: 15, ticks: tempScatterTicks, fmt: (v: number) => minus(String(v)),
          size: 111, pad: 8, gridColor: '#808080', gridWidth: 1, dash: [4, 2.5], title: 'MRCM/MODIS (°C)', titlePad: 12,
        }),
      },
    },
    plugins: [
      decor({ text: 'b', x: 74, y: 32 }, {
        dx: 13, dy: 22, gap: 34, len: 0, tx: 56, size: 22.5,
        items: [
          { label: 'MRCM', color: 'rgba(0,0,0,0.5)', kind: 'dot', r: 3.4 },
          { label: 'MODIS', color: 'rgba(0,0,255,0.5)', kind: 'dot', r: 3.4 },
        ],
      }),
    ],
  };
}

function configC() {
  const BLACK = '#161616', RED = '#ff0000';
  const curve = (label: string, xs: number[], ys: number[], color: string, order: number) => ({
    label, data: toXY(xs, ys), borderColor: color, backgroundColor: color, borderWidth: 2.2,
    pointRadius: 0, tension: 0.4, cubicInterpolationMode: 'monotone', order,
  });
  return {
    type: 'line',
    data: {
      datasets: [
        curve('Station', stationWindX, stationWindPdf, BLACK, 2),
        curve('MRCM', mrcmWindX, mrcmWindPdf, RED, 1),
      ],
    },
    options: {
      ...baseOptions({ left: 0, top: 42, right: 28, bottom: 0 }),
      scales: {
        x: axis({
          pos: 'bottom', min: -0.56, max: 11.86, ticks: windTicks, fmt: (v: number) => v.toFixed(1),
          size: 73, pad: 2, gridColor: '#808080', gridWidth: 1, dash: [4, 2.5], title: '2-meter wind (m/s)', titlePad: 0,
        }),
        y: axis({
          pos: 'left', min: -0.0212, max: 0.4455, ticks: probTicks, fmt: (v: number) => v.toFixed(1),
          size: 122, pad: 6, gridColor: '#808080', gridWidth: 1, dash: [4, 2.5], title: 'Probability', titlePad: 28,
        }),
      },
    },
    plugins: [
      decor({ text: 'c', x: 85, y: 27 }, {
        dx: 221, dy: 30, gap: 34, len: 49, tx: 288, size: 22.5,
        items: [
          { label: 'Station', color: BLACK, kind: 'line', width: 2.2 },
          { label: 'MRCM', color: RED, kind: 'line', width: 2.2 },
        ],
      }),
    ],
  };
}

function configD() {
  return {
    type: 'scatter',
    data: {
      datasets: [
        {
          label: '1:1', data: [{ x: 0, y: 0 }, { x: 6.5, y: 6.5 }], showLine: true,
          borderColor: '#9a9a9a', borderWidth: 2.5, borderDash: [9, 5], pointRadius: 0, order: 0,
        },
        {
          label: 'MRCM', data: pairsToXY(humidityPairs.concat(humidityCore)), pointRadius: 3.3,
          backgroundColor: 'rgba(0,0,0,0.58)', borderWidth: 0, order: 1,
        },
      ],
    },
    options: {
      ...baseOptions({ left: 0, top: 42, right: 9, bottom: 0 }),
      scales: {
        x: axis({
          pos: 'bottom', min: 0, max: 6.5, ticks: humidityTicks, fmt: (v: number) => String(v),
          size: 73, pad: 2, gridColor: '#808080', gridWidth: 1, dash: [4, 2.5], title: 'Station (g/kg)', titlePad: 0,
        }),
        y: axis({
          pos: 'left', min: 0, max: 6.5, ticks: humidityTicks, fmt: (v: number) => String(v),
          size: 111, pad: 8, gridColor: '#808080', gridWidth: 1, dash: [4, 2.5], title: 'MRCM (g/kg)', titlePad: 36,
        }),
      },
    },
    plugins: [decor({ text: 'd', x: 73, y: 26 })],
  };
}

function ChartPanel({ left, top, width, height, make }: any) {
  const ref = useRef<HTMLCanvasElement>(null);
  useEffect(() => {
    const chart = new Chart(ref.current as HTMLCanvasElement, make());
    return () => chart.destroy();
  }, []);
  return (
    <canvas
      ref={ref}
      width={width}
      height={height}
      style={{ position: 'absolute', left, top, width, height }}
    />
  );
}

export default function App() {
  return (
    <div
      style={{
        position: 'fixed',
        left: 0,
        top: 0,
        width: 989,
        height: 975,
        overflow: 'hidden',
        background: '#ffffff',
      }}
    >
      <ChartPanel left={0} top={0} width={530} height={480} make={configA} />
      <ChartPanel left={505} top={0} width={500} height={500} make={configB} />
      <ChartPanel left={0} top={480} width={530} height={495} make={configC} />
      <ChartPanel left={505} top={480} width={500} height={495} make={configD} />
    </div>
  );
}
